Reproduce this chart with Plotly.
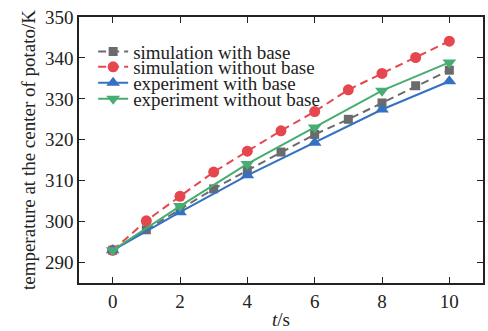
import plotly.graph_objects as go

t_sim = [0, 1, 2, 3, 4, 5, 6, 7, 8, 9, 10]
sim_with_base = [293, 298, 303, 308, 312.5, 317, 321.3, 325, 329, 333.2, 337]
sim_without_base = [293, 300.2, 306.2, 312.1, 317.2, 322.2, 326.9, 332.2, 336.2, 340.1, 344.1]
t_exp = [0, 2, 4, 6, 8, 10]
exp_with_base = [293, 302.3, 311.3, 319.3, 327.4, 334.3]
exp_without_base = [293, 303.8, 314.1, 323, 332, 338.9]

names = ["simulation with base", "simulation without base",
         "experiment with base", "experiment without base"]
colors = ["#6b6b6b", "#e6474f", "#3571c2", "#47ad72"]
font = "Liberation Serif, Times New Roman, serif"
fs = 19

fig = go.Figure()
fig.add_trace(go.Scatter(x=t_sim, y=sim_with_base, name=names[0], mode="lines+markers",
                         line=dict(color=colors[0], width=2, dash="8px,5px"),
                         marker=dict(symbol="square", size=9, color=colors[0]),
                         legend="legend", showlegend=True))
fig.add_trace(go.Scatter(x=t_sim, y=sim_without_base, name=names[1], mode="lines+markers",
                         line=dict(color=colors[1], width=2, dash="8px,5px"),
                         marker=dict(symbol="circle", size=11, color=colors[1]),
                         legend="legend2", showlegend=True))
fig.add_trace(go.Scatter(x=t_exp, y=exp_with_base, name=names[2], mode="lines+markers",
                         line=dict(color=colors[2], width=2),
                         marker=dict(symbol="triangle-up", size=12, color=colors[2]),
                         legend="legend3", showlegend=True))
fig.add_trace(go.Scatter(x=t_exp, y=exp_without_base, name=names[3], mode="lines+markers",
                         line=dict(color=colors[3], width=2),
                         marker=dict(symbol="triangle-down", size=12, color=colors[3]),
                         legend="legend4", showlegend=True))

leg_common = dict(font=dict(family=font, size=fs, color="#222"), bgcolor="rgba(0,0,0,0)",
                  x=0.035, xanchor="left", yanchor="middle", borderwidth=0)
ys = [0.870, 0.812, 0.752, 0.692]
layout_legs = {}
for i, key in enumerate(["legend", "legend2", "legend3", "legend4"]):
    layout_legs[key] = dict(leg_common, y=ys[i])

axis_common = dict(showline=True, linecolor="#222", linewidth=1.5, mirror="ticks",
                   ticks="inside", ticklen=6, tickwidth=1.2, tickcolor="#222",
                   showgrid=False, zeroline=False,
                   tickfont=dict(family=font, size=fs, color="#222"))

fig.update_layout(
    width=488, height=331, showlegend=True,
    margin=dict(l=79, r=3, t=17, b=48),
    plot_bgcolor="white", paper_bgcolor="white",
    xaxis=dict(axis_common, range=[-1, 11], tickvals=[0, 2, 4, 6, 8, 10],
               title=dict(text="<i>t</i>/s", font=dict(family=font, size=fs, color="#222"), standoff=2)),
    yaxis=dict(axis_common, range=[285, 350], tickvals=[290, 300, 310, 320, 330, 340, 350],
               title=dict(text="temperature at the center of potato/K",
                          font=dict(family=font, size=fs, color="#222"), standoff=4)),
    **layout_legs,
)

fig.write_html("out.html")
